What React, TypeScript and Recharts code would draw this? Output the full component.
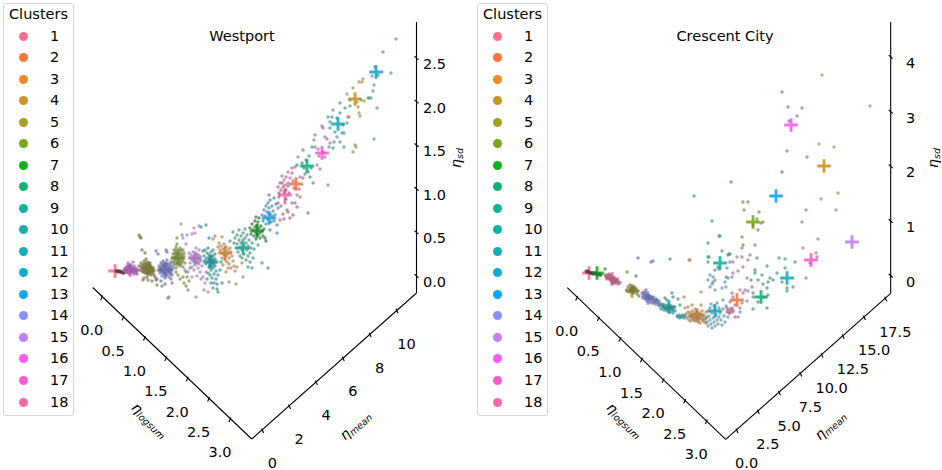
import { ReferenceDot, ReferenceLine, Scatter, ScatterChart, XAxis, YAxis } from 'recharts';

type Pt = number[];

const clusterLabels = ['1', '2', '3', '4', '5', '6', '7', '8', '9', '10', '11', '12', '13', '14', '15', '16', '17', '18'];
const clusterColors = ['#f9708f', '#f8743f', '#ec8a24', '#c99423', '#ab9d23', '#7ca61f', '#0cb31a', '#10b277', '#10b29b', '#12b0a8', '#13afb5', '#14abcb', '#14a5f2', '#8a8ff5', '#c07ff2', '#f75cf2', '#f95cd2', '#fa65ac'];
const dotColors = ['#5a3038', '#a86a8a', '#a98050', '#9a8a55', '#74743a', '#72853c', '#2a6e34', '#3f8f70', '#3e8f85', '#2f8a8a', '#3f9090', '#4f8fa0', '#3f80a8', '#666ca6', '#a07ab5', '#a05fa5', '#a86a9a', '#a85f80'];

// positions are read in the projected view plane of each 3d panel
const w1: Pt[] = [[116,271],[117,271],[118,272],[119,271],[120,272],[121,272],[122,272],[123,273],[124,273]];
const w2: Pt[] = [[282,176],[284,180],[286,177],[290,178],[292,173],[292,168],[298,157],[295,167],[288,183],[300,197],[297,195],[294,188],[299,189],[300,177],[293,181],[303,178],[288,172]];
const w3: Pt[] = [[213,239],[215,236],[219,243],[222,237],[218,247],[220,250],[221,246],[222,253],[222,258],[223,249],[224,255],[224,244],[225,252],[225,260],[226,247],[226,256],[227,262],[228,250],[228,254],[229,258],[229,264],[230,248],[231,252],[231,268],[232,256],[233,261],[234,266],[235,271],[237,267],[226,272],[228,268],[223,265],[243,277],[229,282],[236,284],[242,263]];
const w4: Pt[] = [[347,94],[348,117],[349,117],[353,88],[355,145],[356,147],[353,152],[359,113],[360,116],[359,82],[362,82],[364,101],[358,107],[363,79],[357,102],[361,100],[368,98],[350,100]];
const w5: Pt[] = [[139,235],[140,237],[141,238],[142,250],[145,253],[146,259],[139,266],[140,270],[141,263],[142,268],[143,265],[143,272],[144,261],[144,268],[145,264],[145,270],[146,267],[146,273],[147,262],[147,269],[148,265],[148,271],[149,267],[149,274],[150,263],[150,269],[151,271],[151,266],[152,273],[152,268],[153,270],[154,275],[155,277],[156,280],[143,280],[144,278],[148,280],[147,277],[157,285],[152,281],[141,266],[143,268],[144,264],[144,271],[145,267],[146,264],[146,270],[147,266],[147,272],[148,268],[149,264],[149,270],[150,266],[150,272],[151,268],[152,270],[153,272],[154,271],[142,271],[145,273],[148,274],[151,275]];
const w6: Pt[] = [[172,258],[173,254],[173,262],[174,250],[174,265],[175,256],[175,260],[176,247],[176,253],[176,268],[177,238],[177,244],[177,258],[178,250],[178,263],[179,255],[179,260],[180,248],[180,266],[181,253],[181,258],[182,262],[183,250],[183,267],[184,256],[185,263],[178,275],[180,279],[183,277],[184,283],[187,277],[186,286],[188,290],[186,272],[189,281],[176,272],[190,268],[174,258],[175,253],[175,263],[176,258],[176,250],[177,255],[177,262],[178,253],[178,258],[179,251],[179,264],[180,256],[180,261],[181,250],[181,264],[182,255],[182,258],[183,260],[184,253],[177,265]];
const w7: Pt[] = [[250,228],[251,234],[252,224],[253,230],[254,236],[255,221],[255,227],[256,233],[256,239],[257,225],[257,230],[258,235],[258,222],[259,228],[260,233],[260,238],[261,226],[262,231],[263,236],[264,229],[259,218],[256,217],[265,238],[266,241]];
const w8: Pt[] = [[303,150],[312,147],[302,163],[308,172],[305,174],[310,177],[313,183],[297,165],[308,213],[306,160],[311,168],[304,168],[309,156]];
const w9: Pt[] = [[233,232],[234,243],[235,238],[236,248],[237,235],[237,244],[238,252],[239,230],[239,240],[240,247],[240,256],[241,236],[241,243],[242,250],[242,258],[243,233],[243,240],[244,246],[244,254],[245,229],[245,238],[246,243],[246,260],[247,250],[247,235],[248,246],[248,256],[249,240],[250,253],[251,248],[252,243],[253,258],[250,262],[254,249],[248,267],[262,263],[268,268],[230,241],[252,268],[258,245]];
const w10: Pt[] = [[201,227],[206,225],[209,238],[203,251],[204,256],[205,260],[205,250],[206,264],[207,253],[207,258],[208,248],[208,262],[209,267],[209,255],[210,259],[210,265],[211,252],[211,270],[212,257],[212,263],[213,268],[213,250],[214,260],[214,274],[215,254],[215,266],[216,271],[216,279],[217,262],[217,284],[218,275],[212,278],[210,275],[214,283],[208,273],[211,283],[213,288],[217,289],[218,292],[207,279],[222,283],[220,270],[221,262],[209,259],[210,262],[211,256],[211,260],[212,260],[212,266],[213,256],[213,262],[214,264],[215,259]];
const w11: Pt[] = [[340,103],[330,122],[330,128],[335,132],[337,137],[342,133],[344,133],[340,142],[333,148],[329,147],[344,147],[332,117],[328,117],[340,113],[345,108],[350,106],[333,110],[337,118],[343,125],[347,123],[334,142]];
const w12: Pt[] = [[375,67],[374,85],[373,91],[371,98],[369,98],[377,108],[374,139],[391,73],[383,52],[396,39],[378,75],[372,76]];
const w13: Pt[] = [[262,215],[263,221],[264,210],[265,216],[266,206],[266,224],[267,212],[268,203],[268,219],[269,208],[270,214],[270,200],[271,222],[272,206],[272,216],[273,211],[274,198],[274,221],[275,215],[276,204],[277,225],[278,208],[270,230],[277,233],[269,195]];
const w14: Pt[] = [[158,270],[159,266],[160,273],[161,268],[161,263],[162,271],[162,276],[163,266],[163,261],[164,269],[164,273],[165,264],[165,278],[166,271],[166,267],[167,260],[167,274],[168,269],[168,264],[169,272],[169,277],[170,267],[170,274],[171,262],[171,270],[172,275],[173,268],[156,251],[158,254],[166,250],[167,252],[157,279],[161,281],[162,286],[168,298],[172,283],[171,279],[165,284],[160,268],[160,270],[161,271],[162,268],[162,265],[163,270],[163,273],[164,266],[164,263],[165,270],[165,267],[165,274],[166,263],[166,276],[167,269],[167,265],[168,272],[168,267],[169,269],[170,270],[170,264],[171,266],[171,273],[172,270]];
const w15: Pt[] = [[181,224],[182,235],[183,238],[187,235],[192,234],[194,228],[195,233],[199,226],[186,244],[189,253],[190,258],[190,263],[191,255],[192,260],[192,267],[193,252],[193,257],[194,262],[194,270],[195,255],[195,265],[196,259],[196,248],[197,263],[197,254],[198,268],[198,258],[199,250],[199,264],[200,256],[200,272],[201,261],[202,266],[203,277],[201,279],[205,283],[204,290],[208,292],[196,297],[169,297],[188,272],[185,270],[192,277],[197,276],[206,272],[193,260],[194,256],[195,261],[196,262],[197,258],[198,255],[198,262],[199,259],[200,260],[195,258]];
const w16: Pt[] = [[124,270],[125,268],[126,272],[127,266],[127,270],[128,273],[129,268],[129,271],[130,265],[130,274],[131,269],[132,272],[132,267],[133,270],[134,274],[134,266],[135,269],[135,272],[136,268],[137,271],[138,270],[137,274],[128,263],[133,262],[125,271],[126,269],[128,270],[128,267],[130,270],[130,268],[131,272],[131,266],[133,268],[133,272],[134,270],[136,270],[136,273],[127,272],[132,270],[129,266]];
const w17: Pt[] = [[315,135],[314,140],[322,126],[323,128],[325,137],[327,139],[315,147],[318,149],[320,169],[317,165],[328,185],[323,152],[330,143],[325,157],[319,156]];
const w18: Pt[] = [[278,187],[280,183],[282,183],[281,190],[283,187],[285,185],[279,193],[284,192],[286,190],[288,186],[278,203],[279,197],[281,206],[287,210],[288,212],[290,218],[292,203],[295,203],[297,207],[285,203],[283,214],[284,219],[280,220],[286,199],[289,193],[293,215]];
const westClouds = [w1, w2, w3, w4, w5, w6, w7, w8, w9, w10, w11, w12, w13, w14, w15, w16, w17, w18];
const westCentres: Pt[] = [[115,271],[296,184],[225,253],[355,99],[148,268],[178,258],[257,231],[307,166],[243,248],[210,262],[338,124],[376,72],[269,218],[165,270],[195,258],[130,270],[322,153],[285,195]];

const e1: Pt[] = [[586,271],[587,272],[588,271],[589,272],[590,273],[591,273],[592,273],[593,274]];
const e2: Pt[] = [[742,248],[742,257],[737,257],[733,262],[743,267],[738,271],[733,273],[750,255],[748,260],[747,278],[745,290],[748,291],[752,287],[740,290],[732,293],[730,313],[735,317],[740,312],[727,308],[733,312],[747,301],[753,297],[740,308],[743,293],[742,303],[733,297],[730,302],[738,317],[727,312],[728,310],[729,313],[730,309],[731,311],[732,308],[733,310],[735,305]];
const e3: Pt[] = [[689,260],[690,260],[701,292],[686,314],[687,318],[688,312],[689,316],[689,320],[690,313],[691,317],[691,321],[692,311],[692,315],[693,319],[694,313],[694,317],[695,321],[695,309],[696,315],[697,319],[697,312],[698,322],[698,316],[699,313],[699,319],[700,317],[700,323],[701,314],[702,320],[702,311],[703,317],[704,322],[704,315],[705,319],[706,312],[706,323],[707,317],[688,307],[692,305],[701,305],[685,308],[684,297],[690,316],[693,315],[695,317],[696,318],[698,318],[700,315],[701,318],[703,320],[696,312],[694,320],[692,318],[698,320]];
const e4: Pt[] = [[822,75],[819,144],[834,147],[821,199],[838,193],[836,210]];
const e5: Pt[] = [[627,272],[636,276],[627,290],[628,287],[629,292],[630,289],[630,285],[631,291],[632,288],[633,293],[633,290],[634,287],[635,292],[636,289],[637,294],[638,291],[639,296],[631,288],[632,291],[634,290],[635,288],[633,287]];
const e6: Pt[] = [[743,202],[748,202],[744,210],[759,212],[757,219],[763,222],[761,223],[753,225],[758,230],[755,245],[743,245],[742,237]];
const e7: Pt[] = [[593,273],[594,273],[595,274],[596,273],[597,274],[598,275],[599,274],[600,275],[601,275],[605,269]];
const e8: Pt[] = [[757,258],[767,266],[755,270],[755,273],[751,280],[758,280],[762,275],[770,278],[773,280],[768,282],[767,288],[763,284],[753,293],[767,308],[753,309],[758,302],[768,295],[764,297]];
const e9: Pt[] = [[722,251],[730,254],[728,255],[708,257],[708,262],[730,262],[727,268],[718,267],[715,270],[731,182],[694,196],[712,221],[719,236],[708,243],[720,236],[729,254],[709,257],[719,269]];
const e10: Pt[] = [[670,259],[660,306],[661,309],[662,304],[663,307],[664,310],[665,305],[666,309],[667,311],[668,305],[669,308],[670,312],[671,306],[672,310],[673,313],[674,307],[675,311],[673,297],[678,299],[672,293],[680,305],[667,300],[665,298],[677,316],[678,317],[679,315],[680,318],[681,316],[682,317],[683,315],[684,318],[685,316],[663,305],[665,308],[667,308],[669,306],[670,309],[672,308],[673,310]];
const e11: Pt[] = [[779,258],[785,259],[795,262],[777,273],[787,288],[787,291],[793,287],[782,282],[785,268]];
const e12: Pt[] = [[706,318],[707,322],[708,311],[708,326],[709,316],[710,308],[710,320],[711,324],[711,304],[712,313],[712,328],[713,318],[714,306],[714,322],[715,310],[715,326],[716,315],[717,303],[717,320],[718,324],[719,308],[719,317],[720,313],[721,320],[722,325],[723,309],[724,316],[725,322],[726,306],[728,317],[723,300],[710,275],[713,277],[715,280],[708,280],[712,284],[710,287],[715,290],[726,277],[728,278],[732,277],[725,282],[726,287],[722,288],[713,282]];
const e13: Pt[] = [[782,172]];
const e14: Pt[] = [[638,258],[651,262],[653,261],[642,293],[643,296],[644,292],[645,295],[645,299],[646,293],[647,297],[647,301],[648,295],[649,299],[650,296],[650,302],[651,299],[652,303],[653,297],[654,300],[655,304],[656,299],[657,302],[658,305],[659,301],[660,304],[646,290],[644,294],[646,296],[648,298],[649,296],[651,297],[652,300],[654,302],[655,301],[657,300],[658,303],[646,298],[650,299]];
const e15: Pt[] = [[870,106]];
const e16: Pt[] = [[782,92],[788,107],[802,108],[797,116],[789,121],[787,151],[807,157]];
const e17: Pt[] = [[806,210],[802,222],[818,239],[803,248],[816,253],[817,257],[806,278],[810,263]];
const e18: Pt[] = [[605,275],[606,277],[607,275],[608,278],[609,276],[610,279],[610,275],[611,281],[612,277],[612,283],[613,279],[614,277],[614,281],[615,283],[616,280],[617,282],[618,284],[619,282],[620,283],[607,277],[609,278],[611,278],[613,281],[615,279],[616,282],[617,280],[609,274],[612,280],[614,283]];
const eastClouds = [e1, e2, e3, e4, e5, e6, e7, e8, e9, e10, e11, e12, e13, e14, e15, e16, e17, e18];
const eastCentres: Pt[] = [[589,273],[737,300],[697,315],[824,166],[632,291],[753,222],[597,273],[761,297],[720,263],[669,307],[787,278],[715,311],[776,196],[648,298],[852,242],[791,125],[811,260],[612,279]];

const westLogsumTicks = ['0.0', '0.5', '1.0', '1.5', '2.0', '2.5', '3.0'];
const westMeanTicks = ['0', '2', '4', '6', '8', '10'];
const westSdTicks = ['0.0', '0.5', '1.0', '1.5', '2.0', '2.5'];
const eastLogsumTicks = ['0.0', '0.5', '1.0', '1.5', '2.0', '2.5', '3.0'];
const eastMeanTicks = ['0.0', '2.5', '5.0', '7.5', '10.0', '12.5', '15.0', '17.5'];
const eastSdTicks = ['0', '1', '2', '3', '4'];

const FONT = '"DejaVu Sans", sans-serif';

const toRows = (points: Pt[]) => points.map(([x, y]) => ({ x, y }));

const Dot = ({ cx, cy, fill }: any) => <circle cx={cx} cy={cy} r={1.7} fill={fill} fillOpacity={0.68} />;

const Cross = ({ cx, cy, stroke }: any) => (
  <path d={`M${cx - 6.8} ${cy}H${cx + 6.8}M${cx} ${cy - 6.8}V${cy + 6.8}`} stroke={stroke} strokeWidth={2.8} strokeOpacity={0.9} fill="none" />
);

const TickText = ({ cx, cy, value }: any) => (
  <text x={cx} y={cy} textAnchor="middle" dominantBaseline="central" fontFamily={FONT} fontSize={14.5} fill="#000">{value}</text>
);

const AxisTitle = ({ cx, cy, sub, angle }: any) => (
  <text x={cx} y={cy} textAnchor="middle" dominantBaseline="central" transform={`rotate(${angle} ${cx} ${cy})`} fontFamily={FONT} fontSize={14} fontStyle="italic" fill="#000">
    η<tspan dy={3} fontSize={9.5}>{sub}</tspan>
  </text>
);

type PanelProps = {
  left: number; width: number; title: string; titleX: number;
  clouds: Pt[][]; centres: Pt[];
  logsumTicks: string[]; meanTicks: string[]; sdTicks: string[];
  logsumStart: Pt; logsumTick0: Pt; logsumTick3: Pt; corner: Pt;
  meanTick0: Pt; meanTickLast: Pt; meanEnd: Pt;
  sdTop: number; sdTick0: number; sdTickLast: number; sdLabelDx: number;
  logsumTitle: Pt; meanTitle: Pt; sdTitle: Pt;
};

const Panel = (p: PanelProps) => {
  const along = (a: Pt, b: Pt, i: number, n: number) => [a[0] + ((b[0] - a[0]) * i) / (n - 1), a[1] + ((b[1] - a[1]) * i) / (n - 1)];
  const seg = (a: Pt, b: Pt, key: string) => (
    <ReferenceLine key={key} segment={[{ x: a[0], y: a[1] }, { x: b[0], y: b[1] }]} stroke="#000" strokeWidth={1.1} ifOverflow="visible" />
  );
  const label = (x: number, y: number, value: string, key: string) => (
    <ReferenceDot key={key} x={x} y={y} r={0} ifOverflow="visible" shape={(s: any) => <TickText cx={s.cx} cy={s.cy} value={value} />} />
  );
  const sdX = p.meanEnd[0];

  return (
    <div style={{ position: 'absolute', left: p.left, top: 0, width: p.width, height: 470 }}>
      <ScatterChart width={p.width} height={470} margin={{ top: 0, right: 0, bottom: 0, left: 0 }}>
        <XAxis type="number" dataKey="x" domain={[p.left, p.left + p.width]} allowDataOverflow hide />
        <YAxis type="number" dataKey="y" domain={[0, 470]} reversed allowDataOverflow hide />
        {seg(p.logsumStart, p.corner, 'ax-l')}
        {seg(p.corner, p.meanEnd, 'ax-m')}
        {seg([sdX, p.meanEnd[1]], [sdX, p.sdTop], 'ax-s')}
        {p.logsumTicks.map((value, i) => {
          const [x, y] = along(p.logsumTick0, p.logsumTick3, i, p.logsumTicks.length);
          return [seg([x + 1, y - 2.2], [x - 1, y + 2.2], `lt${i}`), label(x - 10, y + 32.6, value, `ll${i}`)];
        })}
        {p.meanTicks.map((value, i) => {
          const [x, y] = along(p.meanTick0, p.meanTickLast, i, p.meanTicks.length);
          return [seg([x - 1, y - 2.2], [x + 1, y + 2.2], `mt${i}`), label(x + 9.6, y + 32.6, value, `ml${i}`)];
        })}
        {p.sdTicks.map((value, i) => {
          const y = p.sdTick0 + ((p.sdTickLast - p.sdTick0) * i) / (p.sdTicks.length - 1);
          return [seg([sdX - 2, y - 1.8], [sdX + 2, y + 1.8], `st${i}`), label(sdX + p.sdLabelDx, y + 6, value, `sl${i}`)];
        })}
        {p.centres.map((centre, i) => (
          <Scatter key={`centre-${i}`} data={toRows([centre])} stroke={clusterColors[i]} shape={Cross} isAnimationActive={false} />
        ))}
        {p.clouds.map((points, i) => (
          <Scatter key={`dots-${i}`} data={toRows(points)} fill={dotColors[i]} shape={Dot} isAnimationActive={false} />
        ))}
        <ReferenceDot x={p.titleX} y={36} r={0} ifOverflow="visible" shape={(s: any) => <TickText cx={s.cx} cy={s.cy} value={p.title} />} />
        <ReferenceDot x={p.logsumTitle[0]} y={p.logsumTitle[1]} r={0} ifOverflow="visible" shape={(s: any) => <AxisTitle cx={s.cx} cy={s.cy} sub="logsum" angle={44} />} />
        <ReferenceDot x={p.meanTitle[0]} y={p.meanTitle[1]} r={0} ifOverflow="visible" shape={(s: any) => <AxisTitle cx={s.cx} cy={s.cy} sub="mean" angle={-42} />} />
        <ReferenceDot x={p.sdTitle[0]} y={p.sdTitle[1]} r={0} ifOverflow="visible" shape={(s: any) => <AxisTitle cx={s.cx} cy={s.cy} sub="sd" angle={-90} />} />
      </ScatterChart>
    </div>
  );
};

const ClusterLegend = ({ left, numberX }: { left: number; numberX: number }) => (
  <div style={{ position: 'absolute', left, top: 3, width: 71, height: 413, boxSizing: 'border-box', background: '#fff', border: '1px solid #d6d6d6', borderRadius: 3, fontFamily: FONT, fontSize: 14.5, color: '#000' }}>
    <div style={{ position: 'absolute', left: 0, right: 0, top: 2, textAlign: 'center', lineHeight: '17px' }}>Clusters</div>
    {clusterLabels.map((name, i) => (
      <div key={name}>
        <div style={{ position: 'absolute', left: 15, top: 27.5 + i * 21.53, width: 9, height: 9, borderRadius: '50%', background: clusterColors[i] }} />
        <div style={{ position: 'absolute', left: numberX, top: 23.5 + i * 21.53, lineHeight: '17px' }}>{name}</div>
      </div>
    ))}
  </div>
);

export default function App() {
  return (
    <div style={{ position: 'absolute', left: 0, top: 0, width: 942, height: 470, background: '#fff', overflow: 'hidden' }}>
      <Panel
        left={0} width={471} title="Westport" titleX={242}
        clouds={westClouds} centres={westCentres}
        logsumTicks={westLogsumTicks} meanTicks={westMeanTicks} sdTicks={westSdTicks}
        logsumStart={[92.7, 287.5]} logsumTick0={[101.7, 297.7]} logsumTick3={[230, 419.7]} corner={[251.7, 439]}
        meanTick0={[262.7, 430.7]} meanTickLast={[397, 311]} meanEnd={[416.5, 293]}
        sdTop={22} sdTick0={276} sdTickLast={58} sdLabelDx={18}
        logsumTitle={[150, 420]} meanTitle={[355, 425]} sdTitle={[456, 158]}
      />
      <Panel
        left={471} width={471} title="Crescent City" titleX={725}
        clouds={eastClouds} centres={eastCentres}
        logsumTicks={eastLogsumTicks} meanTicks={eastMeanTicks} sdTicks={eastSdTicks}
        logsumStart={[567.3, 287.7]} logsumTick0={[576.7, 298.3]} logsumTick3={[706.3, 421.7]} corner={[725.7, 439.3]}
        meanTick0={[737, 430.7]} meanTickLast={[885.7, 299]} meanEnd={[890.7, 293.3]}
        sdTop={22} sdTick0={275.7} sdTickLast={57} sdLabelDx={20}
        logsumTitle={[625, 420]} meanTitle={[830, 425]} sdTitle={[933, 158]}
      />
      <ClusterLegend left={3} numberX={46} />
      <ClusterLegend left={477} numberX={46} />
    </div>
  );
}
